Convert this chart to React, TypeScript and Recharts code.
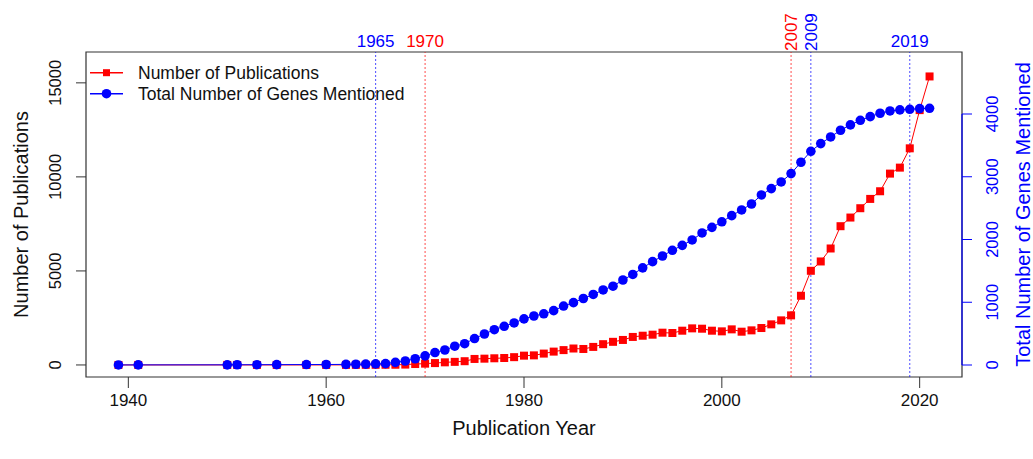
import React from "react";
import {
  LineChart,
  Line,
  XAxis,
  YAxis,
  ReferenceLine,
  ReferenceArea,
  Legend,
} from "recharts";

// Publication years covered by the literature search
const years = [
  1939, 1941, 1950, 1951, 1953, 1955, 1958, 1960, 1962, 1963, 1964, 1965,
  1966, 1967, 1968, 1969, 1970, 1971, 1972, 1973, 1974, 1975, 1976, 1977,
  1978, 1979, 1980, 1981, 1982, 1983, 1984, 1985, 1986, 1987, 1988, 1989,
  1990, 1991, 1992, 1993, 1994, 1995, 1996, 1997, 1998, 1999, 2000, 2001,
  2002, 2003, 2004, 2005, 2006, 2007, 2008, 2009, 2010, 2011, 2012, 2013,
  2014, 2015, 2016, 2017, 2018, 2019, 2020, 2021,
];

// Number of publications per year (left axis)
const publications = [
  1, 1, 2, 1, 1, 1, 1, 2, 4, 5, 6, 8,
  10, 12, 20, 50, 70, 100, 140, 165, 200, 320, 335, 355,
  370, 415, 495, 510, 605, 710, 790, 875, 850, 960, 1105, 1230,
  1330, 1490, 1555, 1610, 1716, 1699, 1822, 1946, 1928, 1822, 1787, 1893,
  1769, 1840, 1964, 2159, 2371, 2637, 3680, 5007, 5503, 6193, 7378, 7838,
  8334, 8829, 9236, 10174, 10492, 11518, 13550, 15340,
];

// Cumulative number of distinct genes mentioned (right axis)
const genesMentioned = [
  1, 2, 3, 4, 5, 6, 7, 8, 10, 12, 14, 18,
  22, 42, 64, 100, 146, 199, 239, 300, 340, 422, 494, 563,
  617, 670, 735, 781, 816, 866, 940, 994, 1060, 1124, 1196, 1256,
  1355, 1443, 1548, 1647, 1737, 1828, 1907, 1993, 2104, 2194, 2282, 2380,
  2471, 2566, 2710, 2811, 2917, 3050, 3231, 3406, 3528, 3634, 3741, 3826,
  3900, 3958, 4012, 4049, 4065, 4075, 4086, 4091,
];

// Axis ticks
const yearTicks = [1940, 1960, 1980, 2000, 2020];
const publicationTicks = [0, 5000, 10000, 15000];
const geneTicks = [0, 1000, 2000, 3000, 4000];

// Marked milestone years
const milestones = [
  { year: 1965, color: "blue", rotated: false },
  { year: 1970, color: "red", rotated: false },
  { year: 2007, color: "red", rotated: true },
  { year: 2009, color: "blue", rotated: true },
  { year: 2019, color: "blue", rotated: false },
];

// Axis ranges (data range padded by 4% on each side)
const X_DOMAIN: [number, number] = [1935.72, 2024.28];
const LEFT_DOMAIN: [number, number] = [-640, 16640];
const RIGHT_DOMAIN: [number, number] = [-191, 4988];

const rows = years.map((year, i) => ({
  year,
  publications: publications[i],
  genes: genesMentioned[i],
}));

const FONT = "'Liberation Sans', Arial, Helvetica, sans-serif";

const XTick = (props: any) => {
  const { x, y, payload } = props;
  return (
    <text x={x} y={y + 16} textAnchor="middle" fontSize={17} fill="#111" fontFamily={FONT}>
      {payload.value}
    </text>
  );
};

const LeftTick = (props: any) => {
  const { x, y, payload } = props;
  return (
    <text
      transform={`translate(${x - 15},${y}) rotate(-90)`}
      textAnchor="middle"
      fontSize={16.5}
      fill="#111"
      fontFamily={FONT}
    >
      {payload.value}
    </text>
  );
};

const RightTick = (props: any) => {
  const { x, y, payload } = props;
  return (
    <text
      transform={`translate(${x + 26},${y}) rotate(-90)`}
      textAnchor="middle"
      fontSize={16.5}
      fill="blue"
      fontFamily={FONT}
    >
      {payload.value}
    </text>
  );
};

const XTitle = (props: any) => {
  const vb = props.viewBox || {};
  return (
    <text
      x={vb.x + vb.width / 2}
      y={vb.y + 58}
      textAnchor="middle"
      fontSize={20}
      fill="#111"
      fontFamily={FONT}
    >
      Publication Year
    </text>
  );
};

const LeftTitle = (props: any) => {
  const vb = props.viewBox || {};
  const cx = vb.x + 21.7;
  const cy = vb.y + vb.height / 2;
  return (
    <text
      transform={`translate(${cx},${cy}) rotate(-90)`}
      textAnchor="middle"
      fontSize={20}
      fill="#111"
      fontFamily={FONT}
    >
      Number of Publications
    </text>
  );
};

const RightTitle = (props: any) => {
  const vb = props.viewBox || {};
  const cx = vb.x + 68;
  const cy = vb.y + vb.height / 2;
  return (
    <text
      transform={`translate(${cx},${cy}) rotate(-90)`}
      textAnchor="middle"
      fontSize={20}
      fill="blue"
      fontFamily={FONT}
    >
      Total Number of Genes Mentioned
    </text>
  );
};

const MilestoneLabel = (props: any) => {
  const { viewBox, text, color, rotated } = props;
  if (!viewBox) return null;
  const { x, y } = viewBox;
  if (rotated) {
    return (
      <text
        transform={`translate(${x + 6},${y - 1}) rotate(-90)`}
        textAnchor="start"
        fontSize={17}
        fill={color}
        fontFamily={FONT}
      >
        {text}
      </text>
    );
  }
  return (
    <text x={x} y={y - 5} textAnchor="middle" fontSize={17} fill={color} fontFamily={FONT}>
      {text}
    </text>
  );
};

const SquareDot = (props: any) => {
  const { cx, cy, index } = props;
  if (cx == null || cy == null) return <g key={`sq-${index}`} />;
  return <rect key={`sq-${index}`} x={cx - 4} y={cy - 4} width={8} height={8} fill="red" />;
};

const LegendBox = () => (
  <svg width={360} height={52} style={{ overflow: "visible" }}>
    <line x1={4} y1={16.7} x2={37} y2={16.7} stroke="red" strokeWidth={1.5} />
    <rect x={17} y={13.2} width={7} height={7} fill="red" />
    <text x={52} y={23} fontSize={17.5} fill="#111" fontFamily={FONT}>
      Number of Publications
    </text>
    <line x1={4} y1={37.7} x2={37} y2={37.7} stroke="blue" strokeWidth={1.5} />
    <circle cx={20.5} cy={37.7} r={4.8} fill="blue" />
    <text x={52} y={44} fontSize={17.5} fill="#111" fontFamily={FONT}>
      Total Number of Genes Mentioned
    </text>
  </svg>
);

export default function App() {
  return (
    <div
      style={{
        position: "absolute",
        left: 0,
        top: 0,
        width: 1033,
        height: 459,
        background: "#fff",
        fontFamily: FONT,
      }}
    >
      <LineChart
        width={1033}
        height={459}
        data={rows}
        margin={{ top: 52, right: 6, bottom: 32, left: 6 }}
      >
        <XAxis
          dataKey="year"
          type="number"
          domain={X_DOMAIN}
          ticks={yearTicks}
          allowDataOverflow
          axisLine={false}
          tickLine={{ stroke: "#333" }}
          tickSize={11}
          tickMargin={2}
          height={50}
          tick={<XTick />}
          label={<XTitle />}
        />
        <YAxis
          yAxisId="left"
          orientation="left"
          domain={LEFT_DOMAIN}
          ticks={publicationTicks}
          allowDataOverflow
          axisLine={false}
          tickLine={{ stroke: "#333" }}
          tickSize={10}
          tickMargin={0}
          width={80}
          tick={<LeftTick />}
          label={<LeftTitle />}
        />
        <YAxis
          yAxisId="right"
          orientation="right"
          domain={RIGHT_DOMAIN}
          ticks={geneTicks}
          allowDataOverflow
          axisLine={false}
          tickLine={{ stroke: "blue" }}
          tickSize={10}
          tickMargin={0}
          width={65}
          tick={<RightTick />}
          label={<RightTitle />}
        />

        <ReferenceArea
          yAxisId="left"
          x1={X_DOMAIN[0]}
          x2={X_DOMAIN[1]}
          y1={LEFT_DOMAIN[0]}
          y2={LEFT_DOMAIN[1]}
          fill="none"
          fillOpacity={0}
          stroke="#333"
          strokeWidth={1.2}
          ifOverflow="visible"
        />
        <ReferenceLine
          yAxisId="right"
          segment={[
            { x: X_DOMAIN[1], y: geneTicks[0] },
            { x: X_DOMAIN[1], y: geneTicks[geneTicks.length - 1] },
          ]}
          stroke="blue"
          strokeWidth={1.2}
          ifOverflow="visible"
        />

        <Line
          yAxisId="left"
          dataKey="publications"
          stroke="red"
          strokeWidth={1}
          dot={<SquareDot />}
          activeDot={false}
          isAnimationActive={false}
        />
        <Line
          yAxisId="right"
          dataKey="genes"
          stroke="blue"
          strokeWidth={1}
          dot={{ r: 4.8, fill: "blue", stroke: "none", strokeWidth: 0 }}
          activeDot={false}
          isAnimationActive={false}
        />

        {milestones.map((m) => (
          <ReferenceLine
            key={m.year}
            yAxisId="left"
            x={m.year}
            stroke={m.color}
            strokeOpacity={0.7}
            strokeWidth={1}
            strokeDasharray="2 2"
            label={<MilestoneLabel text={String(m.year)} color={m.color} rotated={m.rotated} />}
          />
        ))}

        <Legend
          layout="horizontal"
          verticalAlign="middle"
          align="center"
          content={() => <LegendBox />}
          wrapperStyle={{ position: "absolute", left: 86, top: 56, width: 360, height: 52 }}
        />
      </LineChart>
    </div>
  );
}
